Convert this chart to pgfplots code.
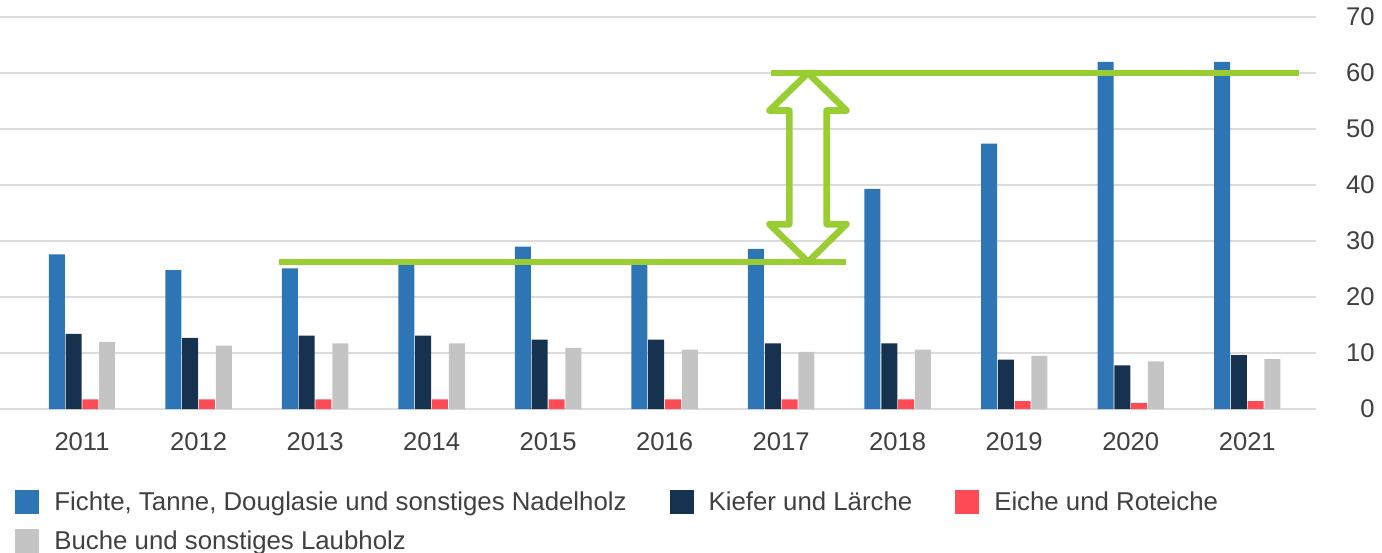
\documentclass[border=0pt]{standalone}
\usepackage{pgfplots}
\pgfplotsset{compat=1.18}
\usepackage{fontspec}
\setmainfont{Liberation Sans}
\definecolor{cBlue}{HTML}{2E75B6}
\definecolor{cNavy}{HTML}{17324F}
\definecolor{cRed}{HTML}{FF4B55}
\definecolor{cGray}{HTML}{C4C4C4}
\definecolor{cGreen}{HTML}{9ACD32}
\definecolor{cText}{HTML}{404040}
\definecolor{cGrid}{HTML}{DCDCDC}
\pgfplotsset{sq/.style={legend image code/.code={\fill[##1] (0pt,-6pt) rectangle (12pt,6pt);}}}
\begin{document}
\begin{tikzpicture}
\begin{axis}[
  at={(0,0)}, anchor=south west,
  scale only axis, width=658pt, height=196pt,
  ybar=0.4pt, bar width=8pt,
  xmin=-0.704, xmax=10.59, ymin=0, ymax=70,
  xtick={0,1,2,3,4,5,6,7,8,9,10},
  xticklabels={2011,2012,2013,2014,2015,2016,2017,2018,2019,2020,2021},
  ytick={0,10,20,30,40,50,60,70},
  axis line style={draw=none}, major tick style={draw=none},
  ymajorgrids, major grid style={cGrid, line width=0.8pt},
  yticklabel pos=right,
  /pgf/number format/assume math mode=true,
  yticklabel style={anchor=east, inner sep=0pt, xshift=29.5pt, font=\fontsize{12.8}{15}\selectfont, text=cText},
  xticklabel style={anchor=base, inner sep=0pt, yshift=-16.5pt, font=\fontsize{12.8}{15}\selectfont, text=cText},
  legend columns=3,
  legend cell align=left,
  legend style={at={(rel axis cs:0,0)}, anchor=north west, xshift=7.5pt, yshift=-40.5pt,
    draw=none, fill=none, inner sep=0pt, font=\fontsize{12.9}{15}\selectfont, text=cText,
    row sep=7.5pt, nodes={inner sep=0pt},
    /tikz/every odd column/.append style={column sep=7.5pt},
    /tikz/every even column/.append style={column sep=21.5pt}},
]
\addplot[fill=cBlue, draw=none, sq] coordinates {(0,27.6) (1,24.8) (2,25.1) (3,26.0) (4,29.0) (5,26.2) (6,28.6) (7,39.3) (8,47.4) (9,62.0) (10,62.0)};
\addplot[fill=cNavy, draw=none, sq] coordinates {(0,13.4) (1,12.7) (2,13.1) (3,13.1) (4,12.4) (5,12.4) (6,11.7) (7,11.7) (8,8.8) (9,7.8) (10,9.6)};
\addplot[fill=cRed, draw=none, sq] coordinates {(0,1.7) (1,1.7) (2,1.7) (3,1.7) (4,1.7) (5,1.7) (6,1.7) (7,1.7) (8,1.4) (9,1.1) (10,1.4)};
\addplot[fill=cGray, draw=none, sq] coordinates {(0,12.0) (1,11.3) (2,11.7) (3,11.7) (4,10.9) (5,10.6) (6,10.2) (7,10.6) (8,9.5) (9,8.5) (10,8.9)};
\legend{Fichte{,} Tanne{,} Douglasie und sonstiges Nadelholz, Kiefer und Lärche, Eiche und Roteiche, Buche und sonstiges Laubholz}
\draw[cGreen, line width=3.3pt] (axis cs:1.69,26.25) -- (axis cs:6.56,26.25);
\draw[cGreen, line width=3.3pt] (axis cs:5.91,60) -- (axis cs:10.44,60);
\draw[cGreen, line width=3.3pt, line join=round] (axis cs:6.23,60) -- (axis cs:6.56,53.3) -- (axis cs:6.39,53.3) -- (axis cs:6.39,33) -- (axis cs:6.56,33) -- (axis cs:6.23,26.25) -- (axis cs:5.90,33) -- (axis cs:6.07,33) -- (axis cs:6.07,53.3) -- (axis cs:5.90,53.3) -- cycle;
\end{axis}
\pgfresetboundingbox
\useasboundingbox (0,-71.5pt) rectangle (691pt,204.5pt);
\end{tikzpicture}
\end{document}
